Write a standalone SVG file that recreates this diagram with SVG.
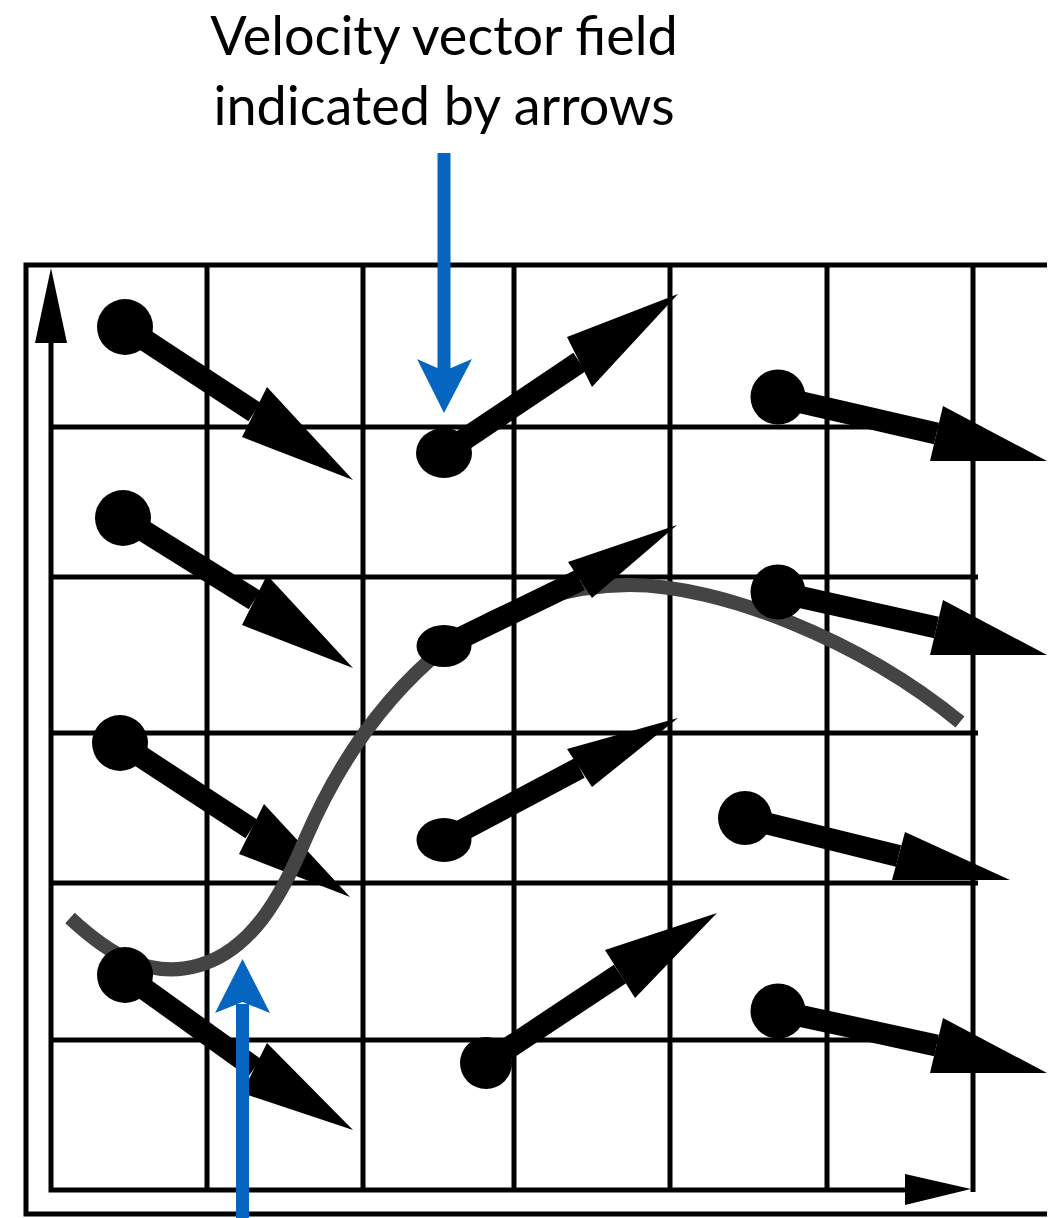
<svg xmlns="http://www.w3.org/2000/svg" width="1055" height="1218" viewBox="0 0 1055 1218">
<style>
.ln{stroke:#000;stroke-width:5;fill:none}
.shaft{stroke:#000;stroke-width:22;fill:none}
.blk{fill:#000}
.blue{stroke:#0565C0;stroke-width:13;fill:none}
.bluef{fill:#0565C0}
.lbl{font-family:Lato,"Noto Sans",sans-serif;font-size:54px;fill:#000;text-anchor:middle}
.curve{stroke:#444;stroke-width:14;fill:none}
</style>
<rect width="1055" height="1218" fill="#fff"/>
<g id="frame">
<path class="ln" d="M1047,265 H26 V1214 H1047"/>
</g>
<g id="grid">
<path class="ln" d="M207,265V1192M363,265V1192M514,265V1192M670,265V1192M827,265V1192M973,265V1192"/>
<path class="ln" d="M51,427H978M51,577H978M51,733H978M51,883H978M51,1040H978"/>
</g>
<g id="axes">
<path class="ln" d="M51,340V1190H910"/>
<polygon class="blk" points="51,268 35,343 67,343"/>
<polygon class="blk" points="971,1189 905,1174 905,1205"/>
</g>
<g id="field-left">
<g id="arrowA1"><line class="shaft" x1="125" y1="327" x2="254.5" y2="412"/><polygon class="blk" points="353,480 267,387 242,437"/><circle class="blk" cx="125" cy="327" r="28"/></g>
<g id="arrowA2"><line class="shaft" x1="123" y1="518" x2="254.5" y2="600"/><polygon class="blk" points="353,668 267,575 242,625"/><circle class="blk" cx="123" cy="518" r="28"/></g>
<g id="arrowA3"><line class="shaft" x1="120" y1="743" x2="251.5" y2="829"/><polygon class="blk" points="350,897 264,804 239,854"/><circle class="blk" cx="120" cy="743" r="28"/></g>
</g>
<g id="pathline">
<path class="curve" d="M70,918 C110,955 150,980 200,965 C250,950 280,900 305,840 C335,770 380,700 444,648 C500,605 570,585 630,585 C720,585 860,640 960,722"/>
</g>
<g id="field-right">
<g id="arrowA4"><line class="shaft" x1="125" y1="975" x2="254.5" y2="1068"/><polygon class="blk" points="353,1130 267,1043 242,1093"/><circle class="blk" cx="125" cy="975" r="28"/></g>
<g id="arrowB1"><line class="shaft" x1="444" y1="453" x2="579.5" y2="362"/><polygon class="blk" points="678,294 567,337 592,387"/><ellipse class="blk" cx="444" cy="453" rx="28" ry="25"/></g>
<g id="arrowB2"><line class="shaft" x1="444" y1="646" x2="580" y2="580"/><polygon class="blk" points="677,525 568,562 592,598"/><ellipse class="blk" cx="444" cy="646" rx="27.5" ry="21"/></g>
<g id="arrowB3"><line class="shaft" x1="444" y1="840" x2="579.5" y2="768"/><polygon class="blk" points="678,718 567,749 592,787"/><ellipse class="blk" cx="444" cy="840" rx="27.5" ry="22"/></g>
<g id="arrowB4"><line class="shaft" x1="486" y1="1063" x2="620" y2="974"/><polygon class="blk" points="717,913 605,950 635,998"/><circle class="blk" cx="486" cy="1063" r="26"/></g>
<g id="arrowC1"><line class="shaft" x1="778" y1="397" x2="936.5" y2="433.5"/><polygon class="blk" points="1047,461 943,406 930,461"/><circle class="blk" cx="778" cy="397" r="27.5"/></g>
<g id="arrowC2"><line class="shaft" x1="778" y1="592" x2="936.5" y2="627.5"/><polygon class="blk" points="1047,655 943,600 930,655"/><circle class="blk" cx="778" cy="592" r="27.5"/></g>
<g id="arrowC3"><line class="shaft" x1="745" y1="818" x2="898.5" y2="856"/><polygon class="blk" points="1010,880 905,832 892,880"/><circle class="blk" cx="745" cy="818" r="27"/></g>
<g id="arrowC4"><line class="shaft" x1="778" y1="1011" x2="936.5" y2="1045.5"/><polygon class="blk" points="1047,1073 943,1018 930,1073"/><circle class="blk" cx="778" cy="1011" r="27.5"/></g>
</g>
<g id="connectors">
<line class="blue" x1="444" y1="153" x2="444" y2="372"/>
<polygon class="bluef" points="417,359 444,413 472,359 444,371"/>
<line class="blue" x1="242.5" y1="1218" x2="242.5" y2="1004"/>
<polygon class="bluef" points="215,1013 242.5,959 270,1013 242.5,1002"/>
</g>
<g id="label">
<text class="lbl" x="444" y="55">Velocity vector field</text>
<text class="lbl" x="444" y="125">indicated by arrows</text>
</g>
</svg>
